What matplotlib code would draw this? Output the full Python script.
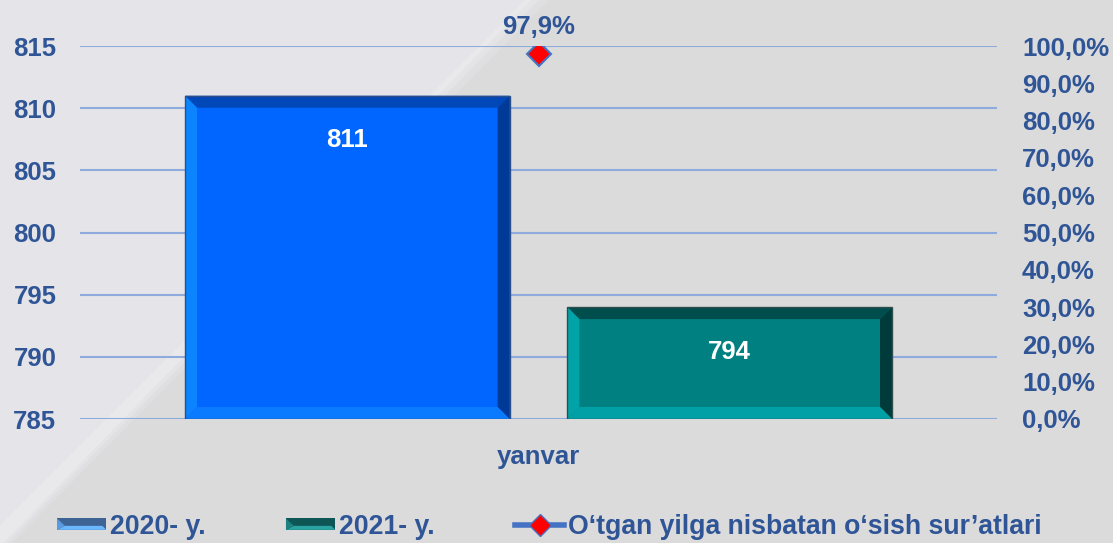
import matplotlib
matplotlib.use("Agg")
import matplotlib.pyplot as plt
from matplotlib.patches import Polygon, Patch
from matplotlib.lines import Line2D
from matplotlib.legend_handler import HandlerBase
import numpy as np

categories = ["yanvar"]
series_names = ["2020- y.", "2021- y."]
values_2020 = [811]
values_2021 = [794]
growth_name = "O\u2018tgan yilga nisbatan o\u2018sish sur\u2019atlari"
growth = [97.9]
growth_labels = ["97,9%"]
left_ticks = [785, 790, 795, 800, 805, 810, 815]
right_ticks = [0, 10, 20, 30, 40, 50, 60, 70, 80, 90, 100]
right_tick_labels = ["0,0%", "10,0%", "20,0%", "30,0%", "40,0%", "50,0%",
                     "60,0%", "70,0%", "80,0%", "90,0%", "100,0%"]

plt.rcParams['font.family'] = ['Liberation Sans', 'DejaVu Sans']
TXT = '#2F5597'
GRID = '#8FAADC'
FS = 18.5

W, H = 1113, 543
fig = plt.figure(figsize=(W / 100, H / 100), dpi=100)
fig.patch.set_facecolor('#DBDBDB')

def fx(px):
    return px / W

def fy(py):
    return 1 - py / H

# lighter background region (top-left) and diagonal streak
bg = Polygon([[0, 1], [fx(525), 1], [fx(0), fy(525)]], closed=True,
             transform=fig.transFigure, facecolor='#E5E5E9', edgecolor='none', zorder=-10)
fig.add_artist(bg)
for i, (w, c) in enumerate([(24, '#DFDFE1'), (14, '#E4E4E6'), (6, '#E9E9EB')]):
    fig.add_artist(Polygon([[fx(525), 1], [fx(525 + w), 1], [fx(0 + w * 0.5), fy(543)],
                            [fx(0), fy(543)], [fx(0), fy(525)]], closed=True,
                           transform=fig.transFigure,
                           facecolor=c, edgecolor='none', zorder=-9 + i))

ax = fig.add_axes([fx(80), fy(419), fx(997) - fx(80), fy(46) - fy(419)])
ax.set_facecolor('none')
ax.set_ylim(785, 815)
ax.set_xlim(-0.5, 0.5)
ax.set_yticks(left_ticks)
ax.set_yticklabels([str(t) for t in left_ticks])
for s in ax.spines.values():
    s.set_visible(False)
ax.tick_params(axis='both', length=0, labelsize=FS, labelcolor=TXT)
ax.tick_params(axis='y', pad=17)
ax.tick_params(axis='x', pad=19)
for lbl in ax.get_yticklabels() + ax.get_xticklabels():
    lbl.set_fontweight('bold')
ax.grid(axis='y', color=GRID, linewidth=1.5, zorder=0)
ax.set_axisbelow(True)

x = np.arange(len(categories))
bw = 0.354
gap = 0.063
b1 = ax.bar(x - (bw + gap) / 2, values_2020, width=bw, color='#0066FF', zorder=2)
b2 = ax.bar(x + (bw + gap) / 2, values_2021, width=bw, color='#008080', zorder=2)
ax.set_xticks(x)
ax.set_xticklabels(categories)

def bevel(bar, top_c, right_c, left_c, bottom_c, edge_c):
    x0 = bar.get_x(); x1 = x0 + bar.get_width()
    y1 = bar.get_height(); y0 = ax.get_ylim()[0]
    X0, Y0 = ax.transData.transform((x0, y0))
    X1, Y1 = ax.transData.transform((x1, y1))
    t = 12
    inv = ax.transData.inverted()
    def D(pts):
        return inv.transform(np.array(pts, dtype=float))
    polys = [
        ([[X0, Y1], [X1, Y1], [X1 - t, Y1 - t], [X0 + t, Y1 - t]], top_c),
        ([[X1, Y1], [X1, Y0], [X1 - t, Y0 + t], [X1 - t, Y1 - t]], right_c),
        ([[X0, Y1], [X0 + t, Y1 - t], [X0 + t, Y0 + t], [X0, Y0]], left_c),
        ([[X0, Y0], [X0 + t, Y0 + t], [X1 - t, Y0 + t], [X1, Y0]], bottom_c),
    ]
    for pts, c in polys:
        ax.add_patch(Polygon(D(pts), closed=True, facecolor=c, edgecolor='none', zorder=3))
    ax.add_patch(Polygon(D([[X0, Y0], [X0, Y1], [X1, Y1], [X1, Y0]]), closed=True,
                         facecolor='none', edgecolor=edge_c, linewidth=1.0, zorder=4))

bevel(b1[0], '#0047B8', '#003A99', '#0A84FF', '#0A7BFF', '#2B4F8A')
bevel(b2[0], '#004D4D', '#003B3B', '#00A3A8', '#00A0A6', '#2F4F4F')

for bars in (b1, b2):
    for b in bars:
        h = b.get_height()
        ax.annotate(f"{h:g}", (b.get_x() + b.get_width() / 2, h), xytext=(0, -32),
                    textcoords='offset points', ha='center', va='center', color='white',
                    fontsize=FS, fontweight='bold', zorder=5)

ax2 = ax.twinx()
ax2.set_ylim(0, 100)
ax2.set_yticks(right_ticks)
ax2.set_yticklabels(right_tick_labels)
for s in ax2.spines.values():
    s.set_visible(False)
ax2.tick_params(axis='y', length=0, labelsize=FS, labelcolor=TXT, pad=18)
for lbl in ax2.get_yticklabels():
    lbl.set_fontweight('bold')
ax2.plot(x, growth, color='#4472C4', linewidth=3, marker='D', markersize=12,
         markerfacecolor='#FF0000', markeredgecolor='#4472C4', markeredgewidth=1.5,
         zorder=6)
for xi, g, lab in zip(x, growth, growth_labels):
    ax2.annotate(lab, (xi, g), xytext=(0, 19.5), textcoords='offset points',
                 ha='center', va='center', color=TXT, fontsize=FS, fontweight='bold')


class BevelHandler(HandlerBase):
    def __init__(self, dark, light, mid):
        super().__init__()
        self.dark, self.light, self.mid = dark, light, mid

    def create_artists(self, legend, orig_handle, xdescent, ydescent, width, height,
                       fontsize, trans):
        x0, y0 = -xdescent, -ydescent + height * 0.15
        x1, y1 = x0 + width, y0 + height * 0.75
        hb = (y1 - y0) * 0.35
        arts = [
            Polygon([[x0, y0], [x1, y0], [x1, y1], [x0, y1]], closed=True,
                    facecolor=self.dark, edgecolor='none', transform=trans),
            Polygon([[x0, y0], [x1, y0], [x1 - hb, y0 + hb], [x0 + hb * 2, y0 + hb]],
                    closed=True, facecolor=self.light, edgecolor='none', transform=trans),
            Polygon([[x0, y0], [x0 + hb * 2, y0 + hb], [x0, y1]], closed=True,
                    facecolor=self.mid, edgecolor='none', transform=trans),
        ]
        return arts


LFS = 19.2
h1 = Patch(facecolor='#3D6494')
h2 = Patch(facecolor='#0E5656')
h3 = Line2D([0], [0], color='#4472C4', linewidth=4, marker='D', markersize=11,
            markerfacecolor='#FF0000', markeredgecolor='#4472C4')
leg = fig.legend([h1, h2, h3], series_names + [growth_name], loc='center left',
                 bbox_to_anchor=(fx(57), fy(527)), ncol=3, frameon=False,
                 handlelength=1.85, handleheight=0.5, handletextpad=0.15,
                 columnspacing=3.0, borderpad=0, borderaxespad=0,
                 handler_map={h1: BevelHandler('#3D6494', '#6CB8FF', '#5A9AE0'),
                              h2: BevelHandler('#0E5656', '#2AA3A3', '#1E8080')},
                 prop={'size': LFS, 'weight': 'bold'})
for t in leg.get_texts():
    t.set_color(TXT)

fig.savefig('out.png', dpi=100, facecolor=fig.get_facecolor())
